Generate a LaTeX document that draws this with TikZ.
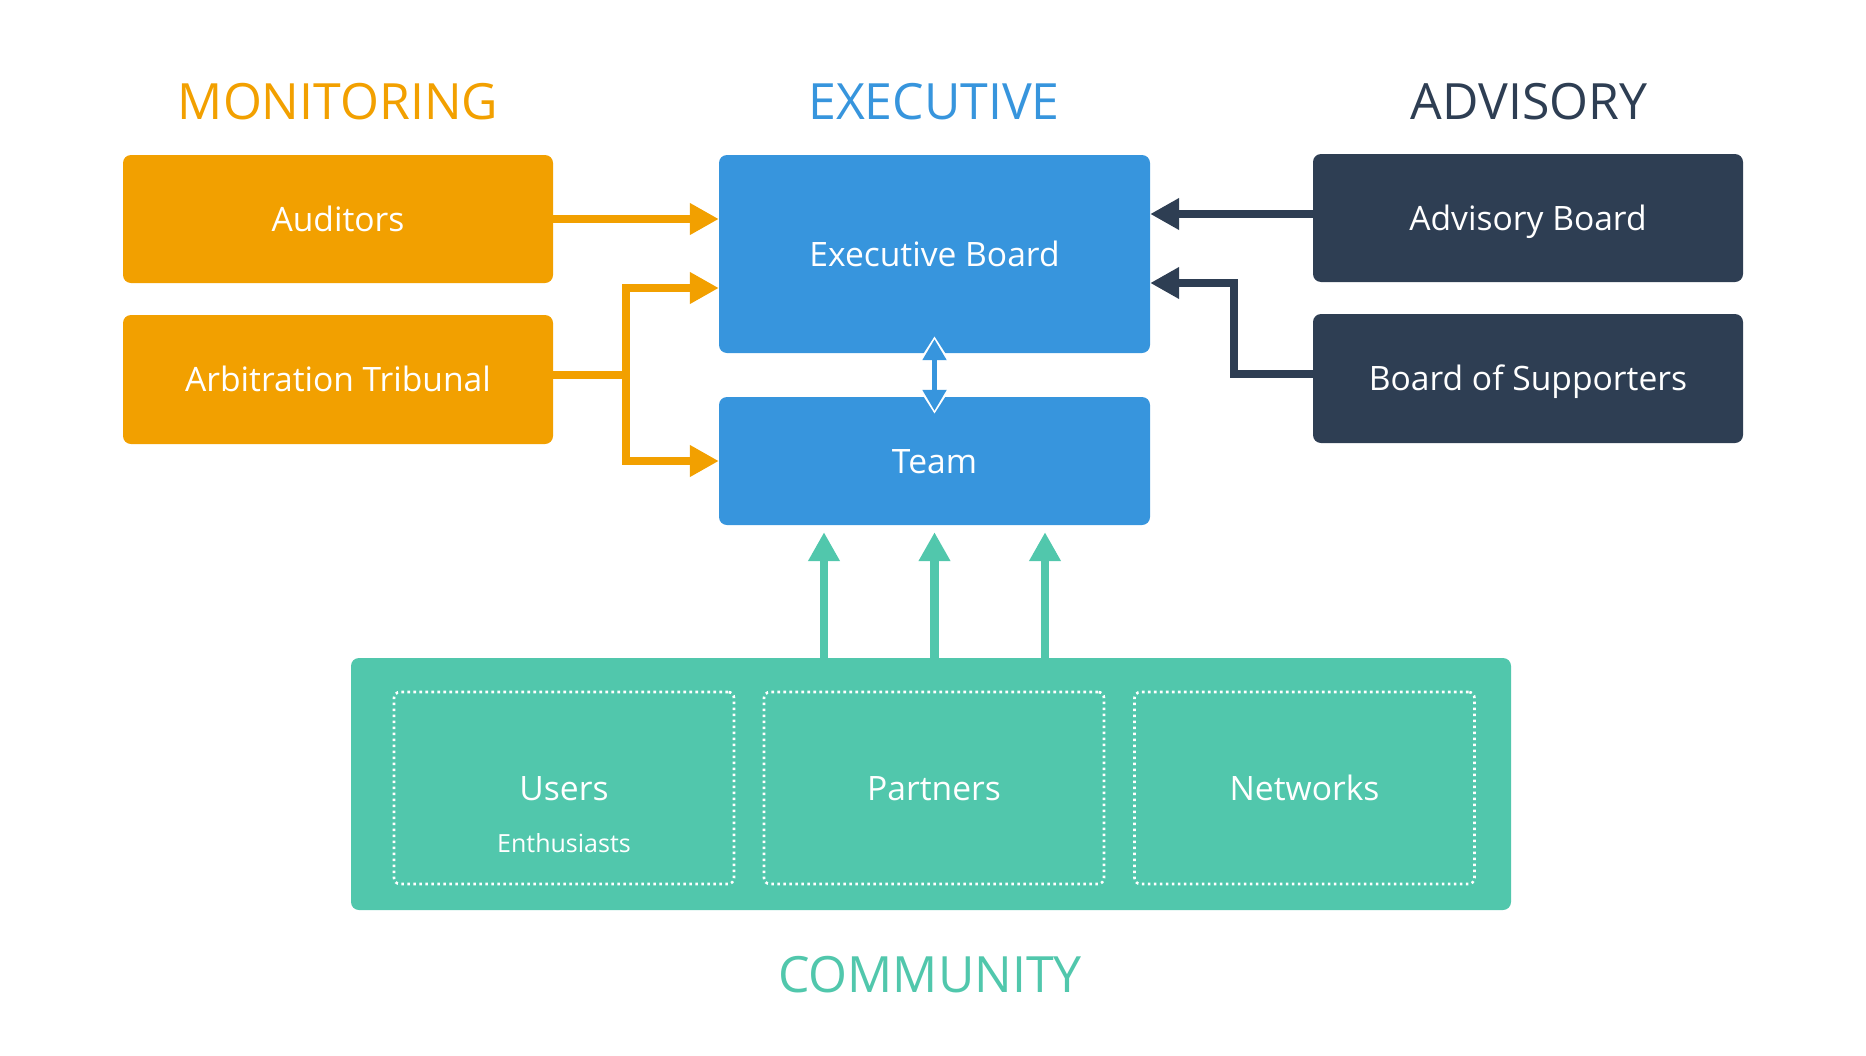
\documentclass[tikz,border=0pt]{standalone}
\usepackage{fontspec}
\setmainfont{Open Sans}
\usepackage{tikz}
\usetikzlibrary{arrows.meta}
\definecolor{monit}{HTML}{F2A000}
\definecolor{execu}{HTML}{3795DD}
\definecolor{advis}{HTML}{2E3E53}
\definecolor{commu}{HTML}{51C7AC}

\tikzset{
    box/.style={rectangle, rounded corners=8pt, text=white, inner sep=0pt,
        minimum width=430pt, minimum height=128pt,
        font=\fontsize{33.6}{40}\selectfont, text height=24pt, text depth=0pt},
    part/.style={rectangle, rounded corners=6pt, draw=white, line width=2.6pt,
        dash pattern=on 2.6pt off 3.4pt, text=white, inner sep=0pt,
        minimum width=340pt, minimum height=192pt,
        font=\fontsize{33.6}{40}\selectfont, text height=24pt, text depth=0pt},
    head/.style={inner sep=0pt, font=\fontsize{50}{60}\selectfont,
        text height=36pt, text depth=0pt},
    flow/.style={line width=8.5pt, -{Triangle[length=29pt,width=30pt]}}
}

\begin{document}
\begin{tikzpicture}[x=1pt, y=-1pt]
        \useasboundingbox (0,0) rectangle (1866,1055);
        \node[head, text=monit](MonT) at (338,101) {MONITORING};
        \node[head, text=execu](ExeT) at (934,101) {EXECUTIVE};
        \node[head, text=advis](AdvT) at (1529,101) {ADVISORY};
        \node[head, text=commu](ComT) at (930,974) {COMMUNITY};
        \node[box, fill=monit](Aud) at (338,219) {Auditors};
        \node[box, fill=monit, minimum height=129pt](Arb) at (338,379.5) {Arbitration Tribunal};
        \node[box, fill=execu, minimum width=431pt, minimum height=198pt](Exe) at (934.5,254) {Executive Board};
        \node[box, fill=execu, minimum width=431pt](Team) at (934.5,461) {Team};
        \node[box, fill=advis](Adv) at (1528,218) {Advisory Board};
        \node[box, fill=advis, minimum height=129pt](Sup) at (1528,378.5) {Board of Supporters};
        \node[box, fill=commu, minimum width=1160pt, minimum height=252pt](Com) at (931,784) {};
        \node[part](Usr) at (564,788) {Users};
        \node[text=white, inner sep=0pt, font=\fontsize{25}{30}\selectfont,
            text height=18pt, text depth=0pt](Ent) at (564,843) {Enthusiasts};
        \node[part](Par) at (934,788) {Partners};
        \node[part](Net) at (1304.5,788) {Networks};
        \coordinate (Fork) at (626,375);
        \coordinate (Bend) at (1234,283);
        \path
            (Aud.east) edge [flow, monit] (Aud.east -| Exe.west)
            ([yshift=4pt]Adv.west) edge [flow, advis] ([yshift=4pt]Adv.west -| Exe.east)
            ;
        \draw[line width=8.5pt, monit] (Fork -| Arb.east) -- (Fork);
        \draw[flow, monit] (Fork) |- ([yshift=-34pt]Exe.west);
        \draw[flow, monit] (Fork) |- (Team.west);
        \draw[flow, advis] ([yshift=4.5pt]Sup.west) -| (Bend) -- (Bend -| Exe.east);
        % double arrow between board and team
        \draw[white, line width=10pt, shorten <=-17pt, shorten >=-17pt,
            {Triangle[length=26pt,width=31pt]}-{Triangle[length=26pt,width=31pt]}] (Exe.south) -- (Team.north);
        \draw[execu, line width=5pt, shorten <=-14pt, shorten >=-14pt,
            {Triangle[length=21pt,width=23pt]}-{Triangle[length=21pt,width=23pt]}] (Exe.south) -- (Team.north);
        \foreach \dx in {-110.5,0,110.5}
            \draw[flow, commu, shorten >=7pt] ([xshift=\dx pt]Com.north -| Team.south) -- ([xshift=\dx pt]Team.south);
\end{tikzpicture}
\end{document}
